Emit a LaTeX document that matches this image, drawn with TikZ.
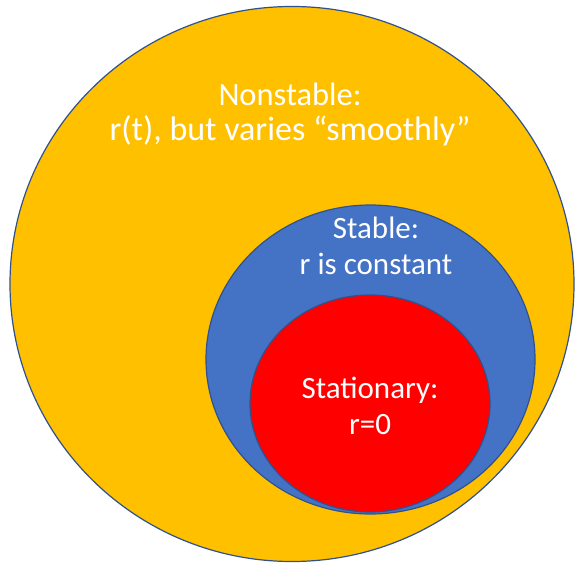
\documentclass[tikz,border=0pt]{standalone}
\usepackage{fontspec}
\setmainfont{Carlito}
\definecolor{oyellow}{HTML}{FFC000}
\definecolor{oblue}{HTML}{4472C4}
\definecolor{ored}{HTML}{FF0000}
\definecolor{oline}{HTML}{2F528F}
\begin{document}
\begin{tikzpicture}[x=1pt,y=1pt,
  setshape/.style={draw=oline,line width=1.2pt},
  lbl/.style={text=white,font=\fontsize{31}{36}\selectfont,align=center,inner sep=0pt}]
\useasboundingbox (0,0) rectangle (575,563);
\fill[white] (0,0) rectangle (575,563);
\draw[setshape,fill=oyellow] (292,279) ellipse [x radius=282,y radius=277.5];
\draw[setshape,fill=oblue] (370.5,203.5) ellipse [x radius=164.5,y radius=154.5];
\draw[setshape,fill=ored] (370,159.5) ellipse [x radius=120,y radius=108.5];
\node[lbl,font=\fontsize{32.5}{35}\selectfont] (nonstable) at (290,449) {Nonstable:\\{\fontsize{34}{35}\selectfont r(t), but varies “smoothly”}};
\node[lbl] (stable) at (376,317) {Stable:\\r is constant};
\node[lbl] (stationary) at (370,157) {Stationary:\\r=0};
\end{tikzpicture}
\end{document}
